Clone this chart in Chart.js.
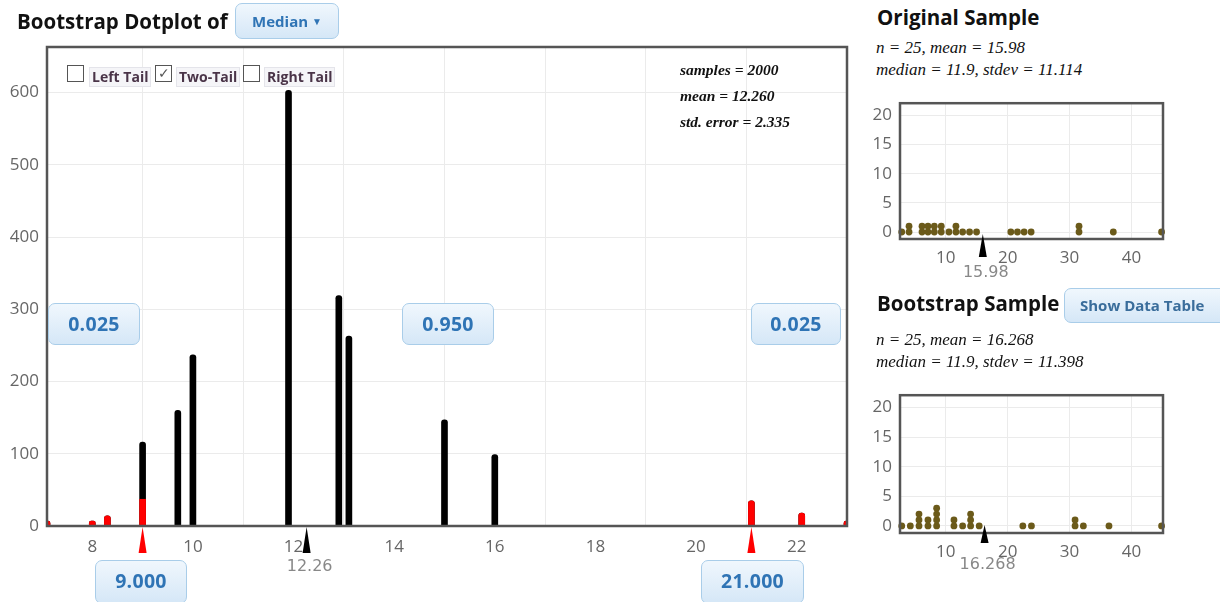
<!DOCTYPE html>
<html>
<head>
<meta charset="utf-8">
<script src="https://cdn.jsdelivr.net/npm/chart.js"></script>
<style>
body{margin:0;width:1220px;height:602px;overflow:hidden;background:#fff;font-family:"Open Sans",sans-serif;position:relative}
canvas{position:absolute}
.abs{position:absolute;white-space:nowrap}
.title{font-weight:bold;font-size:20.5px;color:#111;line-height:26px}
.btn{position:absolute;box-sizing:border-box;border:1px solid #a9cde9;border-radius:7px;background:linear-gradient(#f0f7fd,#d5e7f7);color:#2f74b5;font-weight:bold;text-align:center;white-space:nowrap}
.num{font-size:19.5px;line-height:40px;letter-spacing:0.3px}
.stat{font-family:"Liberation Serif",serif;font-style:italic;font-size:17px;color:#111;line-height:22px}
.chk{position:absolute;top:65px;width:17px;height:17px;border:1px solid #555;background:#fff;box-sizing:border-box;font-size:14px;line-height:14px;text-align:center;color:#555}
.lbl{position:absolute;top:67px;height:20px;box-sizing:border-box;border:1px solid #e4e4ea;background:#f5f5f8;font-weight:bold;font-size:14px;line-height:18px;color:#4a3448;padding:0 2px}
</style>
</head>
<body>
<canvas id="main" width="860" height="602" style="left:0;top:0"></canvas>
<canvas id="orig" width="320" height="200" style="left:860px;top:85px"></canvas>
<canvas id="boot" width="320" height="200" style="left:860px;top:377px"></canvas>

<div class="abs title" style="left:17px;top:8px">Bootstrap Dotplot of</div>
<div class="btn" style="left:235px;top:3px;width:104px;height:36px;font-size:15px;line-height:34px">Median <span style="font-size:10px;position:relative;top:-2px">&#9660;</span></div>

<div class="chk" style="left:67px"></div><div class="lbl" style="left:89px">Left Tail</div>
<div class="chk" style="left:155px">&#10003;</div><div class="lbl" style="left:176px">Two-Tail</div>
<div class="chk" style="left:243px"></div><div class="lbl" style="left:264px">Right Tail</div>

<div class="abs" style="left:680px;top:57px;font-family:'Liberation Serif',serif;font-style:italic;font-weight:bold;font-size:15.5px;line-height:26px;color:#111">samples = 2000<br>mean = 12.260<br>std. error = 2.335</div>

<div class="btn num" style="left:48px;top:303px;width:92px;height:42px">0.025</div>
<div class="btn num" style="left:402px;top:303px;width:92px;height:42px">0.950</div>
<div class="btn num" style="left:751px;top:303px;width:90px;height:42px">0.025</div>
<div class="btn num" style="left:95px;top:560px;width:92px;height:44px">9.000</div>
<div class="btn num" style="left:701px;top:560px;width:103px;height:44px">21.000</div>

<div class="abs title" style="left:877px;top:4px">Original Sample</div>
<div class="abs stat" style="left:876px;top:37px">n = 25, mean = 15.98<br>median = 11.9, stdev = 11.114</div>

<div class="abs title" style="left:877px;top:290px">Bootstrap Sample</div>
<div class="btn" style="left:1064px;top:288px;width:170px;height:35px;font-size:15px;line-height:33px;text-align:left;padding-left:15px;color:#3a6d9b">Show Data Table</div>
<div class="abs stat" style="left:876px;top:329px">n = 25, mean = 16.268<br>median = 11.9, stdev = 11.398</div>

<script>
// bootstrap medians (2000 samples)
const bootMedians = [7.1, 8.0, 8.3, 9.0, 9.7, 10.0, 11.9, 12.9, 13.1, 15.0, 16.0, 21.1, 22.1, 23.0];
const bootCounts = [2, 3, 14, 116, 160, 237, 603, 319, 263, 147, 99, 35, 18, 3];
const tailCounts = [2, 3, 14, 37, 0, 0, 0, 0, 0, 0, 0, 35, 18, 3];
const mainXTicks = [8, 10, 12, 14, 16, 18, 20, 22];
const mainYTicks = [0, 100, 200, 300, 400, 500, 600];
const bootMean = 12.26;
const cutoffs = [9.0, 21.1];

// original sample dotplot columns
const origDotX = [2.88, 4.06, 6.16, 7.12, 8.15, 9.27, 10.51, 11.64, 12.72, 13.84, 14.97, 20.51, 21.58, 22.66, 23.79, 31.53, 37.07, 44.87];
const origDotN = [1, 2, 2, 2, 2, 2, 1, 2, 1, 1, 1, 1, 1, 1, 1, 2, 1, 1];
const origMean = 15.98;

// one bootstrap sample dotplot columns
const bootDotX = [2.88, 4.27, 5.67, 7.12, 8.52, 11.32, 12.72, 14.01, 15.4, 22.45, 23.84, 30.89, 32.23, 36.37, 44.87];
const bootDotN = [1, 1, 3, 2, 4, 2, 1, 3, 1, 1, 1, 2, 1, 1, 1];
const sampleMean = 16.268;

const dotXTicks = [10, 20, 30, 40];
const dotYTicks = [0, 5, 10, 15, 20];

const tickFont = {family: 'Open Sans', size: 17};
const tickColor = '#666';
const gridColor = '#ebebeb';

const framePlugin = {
  id: 'frame',
  afterDatasetsDraw(chart) {
    const a = chart.chartArea, c = chart.ctx;
    c.save();
    c.strokeStyle = '#555';
    c.lineWidth = 2.5;
    c.strokeRect(a.left, a.top, a.right - a.left, a.bottom - a.top);
    c.restore();
  }
};

const markerPlugin = {
  id: 'markers',
  afterDraw(chart, args, opts) {
    const c = chart.ctx, x = chart.scales.x, b = chart.chartArea.bottom;
    (opts.items || []).forEach(m => {
      const px = x.getPixelForValue(m.value);
      c.save();
      c.fillStyle = m.color;
      c.beginPath();
      c.moveTo(px, b + m.top);
      c.lineTo(px + 4, b + m.bottom);
      c.lineTo(px - 4, b + m.bottom);
      c.closePath();
      c.fill();
      if (m.label) {
        c.fillStyle = '#888';
        c.font = '16px "DejaVu Sans"';
        c.textAlign = 'center';
        c.textBaseline = 'middle';
        c.fillText(m.label, px + 3, b + m.labelY);
      }
      c.restore();
    });
  }
};

function stackDots(xs, ns) {
  const pts = [];
  xs.forEach((x, i) => {
    for (let k = 0; k < ns[i]; k++) pts.push({x: x, y: k});
  });
  return pts;
}

new Chart(document.getElementById('main'), {
  type: 'bar',
  data: {
    datasets: [
      {
        data: bootMedians.map((m, i) => ({x: m, y: tailCounts[i], full: bootCounts[i]})).filter(p => p.y > 0),
        backgroundColor: '#ff0000',
        borderRadius: ctx => (ctx.raw && ctx.raw.y < ctx.raw.full) ? 0 : 3,
        grouped: false, barThickness: 6, minBarLength: 5, clip: 0
      },
      {
        data: bootMedians.map((m, i) => ({x: m, y: bootCounts[i]})),
        backgroundColor: '#000',
        borderRadius: 3,
        grouped: false, barThickness: 6, minBarLength: 5, clip: 0
      }
    ]
  },
  options: {
    responsive: false,
    animation: false,
    layout: {padding: {top: 47, right: 13}},
    plugins: {
      legend: {display: false},
      tooltip: {enabled: false},
      markers: {items: [
        {value: cutoffs[0], color: '#ff0000', top: 1, bottom: 27},
        {value: cutoffs[1], color: '#ff0000', top: 1, bottom: 27},
        {value: bootMean, color: '#000', top: 1, bottom: 27, label: '12.26', labelY: 41}
      ]}
    },
    scales: {
      x: {
        type: 'linear', min: 7.1, max: 23.0, offset: false,
        afterBuildTicks: s => { s.ticks = mainXTicks.map(v => ({value: v})); },
        afterFit: s => { s.height = 76; },
        grid: {color: gridColor, drawTicks: false},
        border: {display: false},
        ticks: {padding: 11, font: tickFont, color: tickColor}
      },
      y: {
        min: 0, max: 663,
        afterBuildTicks: s => { s.ticks = mainYTicks.map(v => ({value: v})); },
        afterFit: s => { s.width = 47; },
        grid: {color: gridColor, drawTicks: false},
        border: {display: false},
        ticks: {padding: 8, font: tickFont, color: tickColor}
      }
    }
  },
  plugins: [framePlugin, markerPlugin]
});

function dotChart(id, xs, ns, mean, label, xHeight, mk) {
  return new Chart(document.getElementById(id), {
    type: 'scatter',
    data: {datasets: [{data: stackDots(xs, ns), backgroundColor: '#6b5a1a', borderWidth: 0, pointRadius: 3.4, clip: false}]},
    options: {
      responsive: false,
      animation: false,
      layout: {padding: {top: 11, right: 17}},
      plugins: {
        legend: {display: false},
        tooltip: {enabled: false},
        markers: {items: [{value: mean, color: '#000', top: mk[0], bottom: mk[1], label: label, labelY: mk[2]}]}
      },
      scales: {
        x: {
          type: 'linear', min: 2.6, max: 45.1,
          afterBuildTicks: s => { s.ticks = dotXTicks.map(v => ({value: v})); },
          afterFit: s => { s.height = xHeight; },
          grid: {color: gridColor, drawTicks: false},
          border: {display: false},
          ticks: {padding: 9, font: tickFont, color: tickColor}
        },
        y: {
          min: -1.2, max: 22.1,
          afterBuildTicks: s => { s.ticks = dotYTicks.map(v => ({value: v})); },
          afterFit: s => { s.width = 40; },
          grid: {color: gridColor, drawTicks: false},
          border: {display: false},
          ticks: {padding: 8, font: tickFont, color: tickColor}
        }
      }
    },
    plugins: [framePlugin, markerPlugin]
  });
}

dotChart('orig', origDotX, origDotN, origMean, '15.98', 46, [-5, 18, 34]);
dotChart('boot', bootDotX, bootDotN, sampleMean, '16.268', 44, [-8, 10, 32]);
</script>
</body>
</html>
